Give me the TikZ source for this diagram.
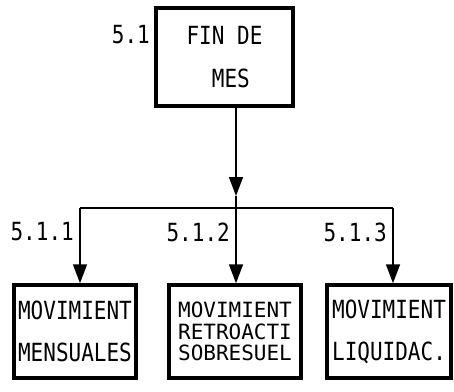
\documentclass[tikz,border=0pt]{standalone}
\usepackage{fontspec}
\newfontfamily\plotter[FakeStretch=0.84]{DejaVu Sans Mono}
\newfontfamily\plotterancho{DejaVu Sans Mono}
\usetikzlibrary{arrows.meta}

\begin{document}
\begin{tikzpicture}[x=1pt,y=-1pt,
    caja/.style={draw,line width=3.5pt,inner sep=0pt,align=center,
      font=\plotter\fontsize{25}{21}\selectfont},
    num/.style={inner sep=0pt,anchor=east,font=\plotter\fontsize{25}{21}\selectfont},
    flecha/.style={line width=1.6pt,-{Triangle[length=19pt,width=14pt]}}]
            \useasboundingbox (0,0) rectangle (454,391);
            \node [caja,minimum width=137pt,minimum height=98pt,align=left] (fin) at (224.5,57) {FIN DE\\[22pt]\hphantom{NN}MES};
            \node [num] (n51) at (150,35) {5.1};
            \node [caja,minimum width=122pt,minimum height=93pt] (mov1) at (75,331.5) {MOVIMIENT\\[21pt]MENSUALES};
            \node [caja,minimum width=132pt,minimum height=93pt,
              font=\plotterancho\fontsize{21}{21.5}\selectfont] (mov2) at (235,331.5) {MOVIMIENT\\RETROACTI\\SOBRESUEL};
            \node [caja,minimum width=124pt,minimum height=93pt] (mov3) at (389,331.5) {MOVIMIENT\\[21pt]LIQUIDAC.};
            \coordinate (b1) at (80,208);
            \coordinate (b2) at (236,208);
            \coordinate (b3) at (393,208);
            \coordinate (tip) at (236,196);
            \draw [flecha] (fin.south -| tip) -- (tip);
            \draw [line width=1.6pt] (tip) -- (b2);
            \draw [line width=1.6pt] (b1) -- (b3);
            \draw [flecha] (b1) -- (b1 |- mov1.north);
            \draw [flecha] (b2) -- (b2 |- mov2.north);
            \draw [flecha] (b3) -- (b3 |- mov3.north);
            \node [num] (n511) at (74,232) {5.1.1};
            \node [num] (n512) at (230,232) {5.1.2};
            \node [num] (n513) at (387,232) {5.1.3};
            % \draw (n51.east) -- (fin.west);
        \end{tikzpicture}
\end{document}
